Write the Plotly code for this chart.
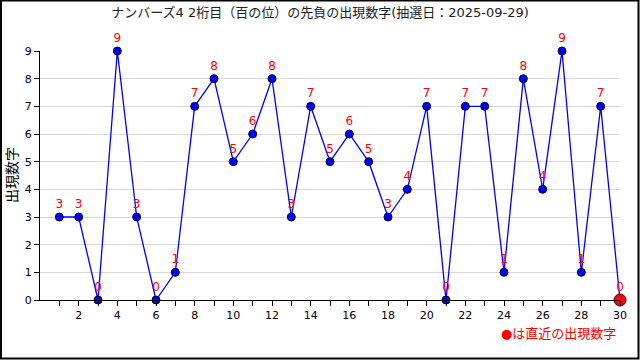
import plotly.graph_objects as go

draws = list(range(1, 31))
values = [3, 3, 0, 9, 3, 0, 1, 7, 8, 5, 6, 8, 3, 7, 5, 6, 5, 3, 4, 7, 0, 7, 7, 1, 8, 4, 9, 1, 7, 0]
y_ticks = list(range(0, 10))
x_tick_labels = [str(v) if v % 2 == 0 else "" for v in draws]

title_text = "ナンバーズ4 2桁目（百の位）の先負の出現数字(抽選日：2025-09-29)"
y_title = "出現数字"
legend_text = "●は直近の出現数字"

FONT = "DejaVu Sans, Noto Sans CJK JP, sans-serif"

fig = go.Figure()

fig.add_trace(go.Scatter(
    x=draws, y=values, mode="lines+markers+text",
    line=dict(color="#0000ff", width=1.3),
    marker=dict(color="#0000ff", size=8, line=dict(color="#000033", width=1)),
    text=[str(v) for v in values], textposition="top center",
    textfont=dict(color="#ff0000", size=12, family=FONT),
    cliponaxis=False, showlegend=False, hoverinfo="x+y",
))

fig.add_trace(go.Scatter(
    x=[draws[-1]], y=[values[-1]], mode="markers",
    marker=dict(color="#ff0000", size=12, line=dict(color="#550000", width=1)),
    cliponaxis=False, showlegend=False, hoverinfo="x+y",
))

fig.add_annotation(
    text=legend_text, xref="paper", yref="paper",
    x=(618 - 40) / 580, y=(300 - 333) / 249, xanchor="right", yanchor="middle",
    showarrow=False, font=dict(color="#ff0000", size=13, family=FONT),
)

fig.add_annotation(
    text=y_title, xref="paper", yref="paper",
    x=(12 - 40) / 580, y=(300 - 175) / 249, xanchor="center", yanchor="middle",
    textangle=-90, showarrow=False, font=dict(color="black", size=14, family=FONT),
)

# outer frame
fig.add_shape(
    type="rect", xref="paper", yref="paper",
    x0=(1 - 40) / 580, x1=(638.5 - 40) / 580,
    y0=(300 - 358.5) / 249, y1=(300 - 0.5) / 249,
    line=dict(color="black", width=2), fillcolor="rgba(0,0,0,0)", layer="below",
)

fig.update_layout(
    width=640, height=360,
    margin=dict(l=40, r=20, t=51, b=60, autoexpand=False),
    paper_bgcolor="white", plot_bgcolor="white",
    font=dict(family=FONT, size=11, color="black"),
    title=dict(text=title_text, x=0.5, xanchor="center", xref="container",
               y=1 - 12 / 360, yref="container", yanchor="middle",
               font=dict(size=13, color="#222222", family=FONT)),
    xaxis=dict(range=[0, 30], tickmode="array", tickvals=draws, ticktext=x_tick_labels,
               ticks="outside", ticklen=5, tickcolor="black", showline=True,
               linecolor="black", linewidth=1, showgrid=False, zeroline=False,
               automargin=False, tickfont=dict(size=11, color="black")),
    yaxis=dict(range=[0, 9], tickmode="array", tickvals=y_ticks,
               ticks="outside", ticklen=5, tickcolor="black", showline=True,
               linecolor="black", linewidth=1, showgrid=True, gridcolor="#d8d8d8",
               gridwidth=1, zeroline=False, automargin=False,
               tickfont=dict(size=11, color="black")),
)

fig.write_html("out.html", config={"displayModeBar": False},
               post_script="document.body.style.margin='0';document.body.style.padding='0';")
